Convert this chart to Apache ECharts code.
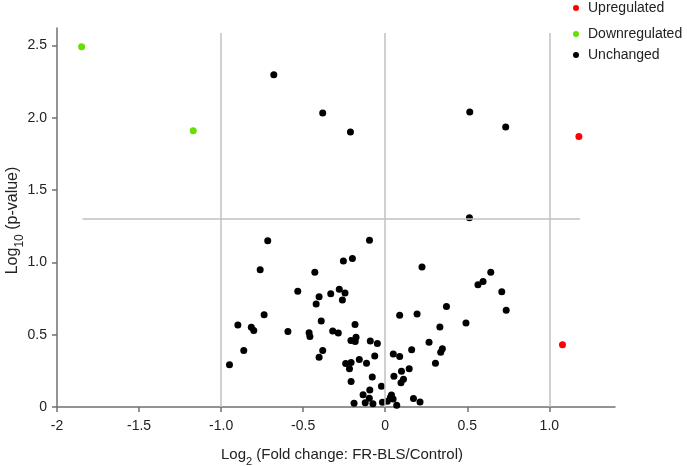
<!DOCTYPE html>
<html>
<head>
<meta charset="utf-8">
<script src="https://cdn.jsdelivr.net/npm/echarts@6/dist/echarts.min.js"></script>
<style>
html,body{margin:0;padding:0;background:#fff;}
#chart{width:687px;height:466px;}
</style>
</head>
<body>
<div id="chart"></div>
<script>
// ---- data ----
var upregulated = [[1.18, 1.87], [1.08, 0.43]];
var downregulated = [[-1.85, 2.49], [-1.17, 1.91]];
var unchanged = [
  [-0.679, 2.296], [-0.381, 2.033], [-0.212, 1.901], [0.515, 2.040], [0.734, 1.936], [0.513, 1.308],
  [-0.716, 1.150], [-0.096, 1.152], [-0.255, 1.010], [-0.200, 1.026], [-0.762, 0.949], [0.224, 0.967],
  [-0.429, 0.931], [-0.533, 0.800], [-0.332, 0.783], [-0.280, 0.814], [-0.245, 0.788], [-0.403, 0.762],
  [-0.261, 0.739], [-0.421, 0.712], [0.373, 0.695], [0.088, 0.634], [0.194, 0.643], [-0.738, 0.638],
  [-0.390, 0.594], [-0.898, 0.566], [-0.816, 0.551], [-0.801, 0.529], [-0.184, 0.570], [0.333, 0.553],
  [-0.593, 0.522], [-0.320, 0.525], [-0.286, 0.511], [-0.464, 0.513], [-0.459, 0.487], [-0.178, 0.483],
  [-0.209, 0.459], [-0.183, 0.452], [-0.091, 0.456], [-0.048, 0.439], [0.267, 0.447], [0.348, 0.402],
  [0.338, 0.379], [0.161, 0.395], [-0.862, 0.390], [-0.381, 0.390], [-0.403, 0.344], [0.049, 0.367],
  [0.088, 0.349], [-0.064, 0.353], [-0.158, 0.328], [-0.949, 0.292], [-0.241, 0.301], [-0.208, 0.308],
  [-0.114, 0.303], [-0.218, 0.265], [0.306, 0.303], [0.146, 0.265], [0.099, 0.248], [0.053, 0.213],
  [-0.079, 0.207], [0.111, 0.191], [0.096, 0.168], [-0.208, 0.177], [-0.023, 0.144], [-0.094, 0.118],
  [-0.135, 0.085], [-0.097, 0.060], [0.038, 0.083], [0.032, 0.067], [0.048, 0.055], [0.172, 0.058],
  [0.212, 0.035], [-0.190, 0.026], [-0.122, 0.029], [-0.075, 0.022], [-0.017, 0.033], [0.013, 0.040],
  [0.070, 0.012],
  [0.643, 0.932], [0.596, 0.868], [0.565, 0.845], [0.710, 0.797], [0.737, 0.669], [0.492, 0.581]
];
var seriesNames = ['Upregulated', 'Downregulated', 'Unchanged'];
var xTickValues = [-2, -1.5, -1, -0.5, 0, 0.5, 1];
var xTickLabels = ['-2', '-1.5', '-1.0', '-0.5', '0', '0.5', '1.0'];
var yTickValues = [0, 0.5, 1, 1.5, 2, 2.5];
var yTickLabels = ['0', '0.5', '1.0', '1.5', '2.0', '2.5'];
var foldThresholds = [-1, 0, 1];
var verticalLineTop = 2.585;
var pThreshold = 1.3;
var pLineRange = [-1.845, 1.186];

// ---- chart ----
var FONT = '"Liberation Sans", Arial, sans-serif';
var chart = echarts.init(document.getElementById('chart'), null, {renderer: 'canvas'});

var markData = foldThresholds.map(function (v) {
  return [{coord: [v, 0]}, {coord: [v, verticalLineTop]}];
});
markData.push([{coord: [pLineRange[0], pThreshold]}, {coord: [pLineRange[1], pThreshold]}]);

function legendFor(name, top) {
  return {
    data: [{name: name, icon: 'circle'}],
    left: 573, top: top, padding: 0, orient: 'vertical',
    itemWidth: 6, itemHeight: 6,
    textStyle: {fontFamily: FONT, fontSize: 14, color: '#222', padding: [0, 0, 0, 4]}
  };
}

var axisLineStyle = {color: '#707070', width: 1.5};

chart.setOption({
  backgroundColor: '#fff',
  animation: false,
  textStyle: {fontFamily: FONT},
  legend: [legendFor(seriesNames[0], 1), legendFor(seriesNames[1], 27), legendFor(seriesNames[2], 48)],
  grid: {left: 57, right: 72, top: 28, bottom: 59, containLabel: false, outerBoundsMode: 'none'},
  xAxis: {
    type: 'value', min: -2, max: 1.4,
    splitLine: {show: false},
    axisLine: {onZero: false, lineStyle: axisLineStyle},
    axisTick: {length: 5, lineStyle: axisLineStyle, customValues: xTickValues},
    axisLabel: {
      customValues: xTickValues, margin: 12, fontSize: 14, color: '#222', fontFamily: FONT,
      formatter: function (v) {
        for (var i = 0; i < xTickValues.length; i++) if (Math.abs(xTickValues[i] - v) < 1e-9) return xTickLabels[i];
        return '';
      }
    },
    name: '{a|Log}{s|2}{a| (Fold change: FR-BLS/Control)}',
    nameLocation: 'middle', nameGap: 40,
    nameTextStyle: {
      padding: [0, 0, 0, 12],
      rich: {
        a: {fontSize: 15, color: '#222', fontFamily: FONT, lineHeight: 19, verticalAlign: 'top'},
        s: {fontSize: 11, color: '#222', fontFamily: FONT, lineHeight: 19, verticalAlign: 'top', padding: [9, 0, 0, 0]}
      }
    }
  },
  yAxis: {
    type: 'value', min: 0, max: 2.62,
    splitLine: {show: false},
    axisLine: {onZero: false, lineStyle: axisLineStyle},
    axisTick: {length: 5, lineStyle: axisLineStyle, customValues: yTickValues},
    axisLabel: {
      customValues: yTickValues, margin: 10, fontSize: 14, color: '#222', fontFamily: FONT,
      formatter: function (v) {
        for (var i = 0; i < yTickValues.length; i++) if (Math.abs(yTickValues[i] - v) < 1e-9) return yTickLabels[i];
        return '';
      }
    },
    name: '{a|Log}{s|10}{a| (p-value)}',
    nameLocation: 'middle', nameGap: 32, nameRotate: 90, nameMoveOverlap: false,
    nameTextStyle: {
      padding: [0, 6, 0, 0],
      rich: {
        a: {fontSize: 16, color: '#222', fontFamily: FONT, lineHeight: 20, verticalAlign: 'top'},
        s: {fontSize: 12, color: '#222', fontFamily: FONT, lineHeight: 20, verticalAlign: 'top', padding: [9, 0, 0, 0]}
      }
    }
  },
  series: [
    {
      name: 'thresholds', type: 'scatter', data: [], z: 1, silent: true,
      markLine: {
        silent: true, symbol: ['none', 'none'], label: {show: false},
        lineStyle: {color: '#c0c0c0', width: 1.5, type: 'solid'},
        emphasis: {disabled: true},
        data: markData
      }
    },
    {name: seriesNames[0], type: 'scatter', data: upregulated, symbolSize: 7, z: 3, itemStyle: {color: '#ff0000', opacity: 1}},
    {name: seriesNames[1], type: 'scatter', data: downregulated, symbolSize: 7, z: 3, itemStyle: {color: '#66e000', opacity: 1}},
    {name: seriesNames[2], type: 'scatter', data: unchanged, symbolSize: 7, z: 3, itemStyle: {color: '#000000', opacity: 1}}
  ]
});
</script>
</body>
</html>
